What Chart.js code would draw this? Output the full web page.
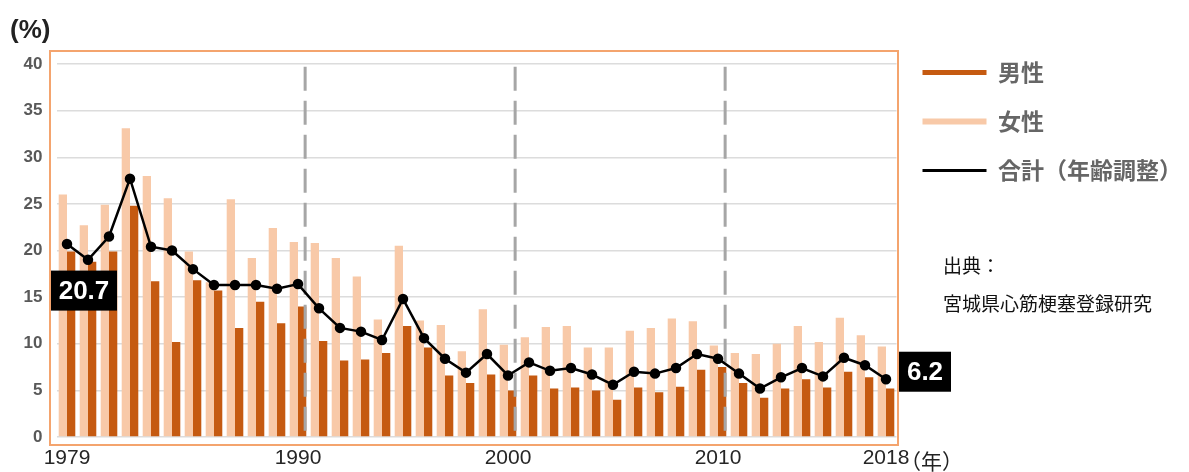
<!DOCTYPE html>
<html lang="ja">
<head>
<meta charset="utf-8">
<title>宮城県 急性心筋梗塞 院内死亡率</title>
<script src="https://cdn.jsdelivr.net/npm/chart.js@4.4.1/dist/chart.umd.min.js"></script>
<style>
  html, body { margin: 0; padding: 0; background: #fff; }
  #wrap { width: 1189px; height: 472px; position: relative; }
</style>
</head>
<body>
<div id="wrap"><canvas id="mortalityChart"></canvas></div>
<script>
const years = [1979, 1980, 1981, 1982, 1983, 1984, 1985, 1986, 1987, 1988,
               1989, 1990, 1991, 1992, 1993, 1994, 1995, 1996, 1997, 1998,
               1999, 2000, 2001, 2002, 2003, 2004, 2005, 2006, 2007, 2008,
               2009, 2010, 2011, 2012, 2013, 2014, 2015, 2016, 2017, 2018];

// 男性 (%)
const maleRates = [19.9, 18.8, 19.9, 24.8, 16.7, 10.2, 16.8, 15.7, 11.7, 14.5,
                   12.2, 14.0, 10.3, 8.2, 8.3, 9.0, 11.9, 9.6, 6.6, 5.8,
                   6.7, 5.0, 6.6, 5.2, 5.3, 5.0, 4.0, 5.3, 4.8, 5.4,
                   7.2, 7.5, 5.8, 4.2, 5.2, 6.2, 5.3, 7.0, 6.4, 5.2];

// 女性 (%)
const femaleRates = [26.0, 22.7, 24.9, 33.1, 28.0, 25.6, 19.9, 16.6, 25.5, 19.2,
                     22.4, 20.9, 20.8, 19.2, 17.2, 12.6, 20.5, 12.5, 12.0, 9.2,
                     13.7, 9.9, 10.7, 11.8, 11.9, 9.6, 9.6, 11.4, 11.7, 12.7,
                     12.4, 9.8, 9.0, 8.9, 10.0, 11.9, 10.2, 12.8, 10.9, 9.7];

// 合計（年齢調整） (%)
const totalRates = [20.7, 19.0, 21.5, 27.7, 20.4, 20.0, 18.0, 16.3, 16.3, 16.3,
                    15.9, 16.4, 13.8, 11.7, 11.3, 10.4, 14.8, 10.6, 8.4, 6.9,
                    8.9, 6.6, 8.0, 7.1, 7.4, 6.7, 5.6, 7.0, 6.8, 7.4,
                    8.9, 8.4, 6.8, 5.2, 6.4, 7.4, 6.5, 8.5, 7.7, 6.2];

const tickYears = [1979, 1990, 2000, 2010, 2018];
const decadeYears = [1990, 2000, 2010];
const yTicks = [0, 5, 10, 15, 20, 25, 30, 35, 40];

const seriesNames = ['男性', '女性', '合計（年齢調整）'];
const seriesColors = ['#c55a11', '#f8c9a8', '#000000'];
const legendLineWidths = [5, 6, 3];

const numFont = '"Liberation Sans", Arial, sans-serif';
const jpFont = '"Noto Sans CJK JP", "Noto Sans", sans-serif';

// orange frame round the plot
const framePlugin = {
    id: 'frame',
    beforeDraw(chart) {
        const { ctx, chartArea } = chart;
        ctx.save();
        ctx.strokeStyle = '#f4a46e';
        ctx.lineWidth = 2;
        ctx.strokeRect(chartArea.left - 6.5, chartArea.top - 13,
                       chartArea.width + 8, chartArea.height + 21);
        ctx.restore();
    }
};

// dashed lines at each decade, drawn under the total line
const decadePlugin = {
    id: 'decadeLines',
    beforeDatasetDraw(chart, args) {
        if (args.meta.type !== 'line') return;
        const { ctx, chartArea, scales: { x, y } } = chart;
        const half = (x.getPixelForValue(1) - x.getPixelForValue(0)) / 2;
        ctx.save();
        ctx.strokeStyle = '#a6a6a6';
        ctx.lineWidth = 3;
        ctx.setLineDash([24, 10]);
        decadeYears.forEach(yr => {
            const px = x.getPixelForValue(years.indexOf(yr)) + half * 0.68;
            ctx.beginPath();
            ctx.moveTo(px, y.getPixelForValue(39.7));
            ctx.lineTo(px, chartArea.bottom);
            ctx.stroke();
        });
        ctx.restore();
    }
};

// value boxes, year unit and source note
const notesPlugin = {
    id: 'notes',
    afterDraw(chart) {
        const { ctx, chartArea, scales: { x, y } } = chart;
        const last = totalRates.length - 1;

        function valueBox(text, left, width, centerY) {
            ctx.fillStyle = '#000';
            ctx.fillRect(left, centerY - 20, width, 40);
            ctx.fillStyle = '#fff';
            ctx.font = 'bold 26px ' + numFont;
            ctx.textAlign = 'center';
            ctx.textBaseline = 'middle';
            ctx.fillText(text, left + width / 2, centerY + 1);
        }

        ctx.save();
        valueBox(totalRates[0].toFixed(1), chartArea.left - 5.5, 66, y.getPixelForValue(15.7));
        valueBox(totalRates[last].toFixed(1), chartArea.right + 2.5, 52, y.getPixelForValue(7.0));

        ctx.fillStyle = '#222';
        ctx.textAlign = 'left';
        ctx.textBaseline = 'middle';
        ctx.font = '21px ' + jpFont;
        ctx.fillText('（年）', x.getPixelForValue(last) + 14, 461);

        ctx.fillStyle = '#111';
        ctx.font = '19px ' + jpFont;
        ctx.fillText('出典：', chartArea.right + 46.5, 266);
        ctx.fillText('宮城県心筋梗塞登録研究', chartArea.right + 46.5, 304);
        ctx.restore();
    }
};

const ctx = document.getElementById('mortalityChart').getContext('2d');
const mortalityChart = new Chart(ctx, {
    type: 'bar',
    data: {
        labels: years,
        datasets: [{
            label: seriesNames[0],
            data: maleRates,
            backgroundColor: seriesColors[0],
            order: 2,
        }, {
            label: seriesNames[1],
            data: femaleRates,
            backgroundColor: seriesColors[1],
            order: 1,
        }, {
            type: 'line',
            label: seriesNames[2],
            data: totalRates,
            borderColor: seriesColors[2],
            backgroundColor: seriesColors[2],
            borderWidth: 2.5,
            pointRadius: 4,
            pointHoverRadius: 4,
            tension: 0,
            order: 0,
        }]
    },
    options: {
        responsive: true,
        maintainAspectRatio: false,
        animation: false,
        categoryPercentage: 0.79,
        barPercentage: 1.0,
        layout: { padding: { top: 10, left: 10, right: 0, bottom: 0 } },
        plugins: {
            title: {
                display: true,
                text: '(%)',
                align: 'start',
                color: '#222',
                font: { family: numFont, size: 26, weight: 'bold', lineHeight: 1.2 },
                padding: { top: 5, bottom: 17.8 },
            },
            legend: {
                position: 'right',
                align: 'start',
                maxWidth: 292.5,
                title: { display: true, text: ' ', font: { size: 13, lineHeight: 1 }, padding: 6 },
                labels: {
                    usePointStyle: true,
                    pointStyleWidth: 64,
                    padding: 26,
                    color: '#111',
                    font: { family: jpFont, size: 23, weight: 'bold' },
                    generateLabels: chart => chart.data.datasets.map((ds, i) => ({
                        text: ds.label,
                        fillStyle: seriesColors[i],
                        strokeStyle: seriesColors[i],
                        lineWidth: legendLineWidths[i],
                        pointStyle: 'line',
                        hidden: false,
                        datasetIndex: i,
                    })),
                },
            },
            tooltip: { enabled: false },
        },
        scales: {
            x: {
                offset: true,
                grid: { display: false, drawTicks: false },
                border: { display: false },
                ticks: {
                    autoSkip: false,
                    maxRotation: 0,
                    padding: 9,
                    color: '#262626',
                    font: { family: numFont, size: 21 },
                    callback: function (value) {
                        const yr = this.getLabelForValue(value);
                        return tickYears.includes(yr) ? String(yr) : '';
                    },
                },
                afterFit: scale => { scale.height = 35; },
            },
            y: {
                min: 0,
                max: 40,
                afterBuildTicks: scale => { scale.ticks = yTicks.map(v => ({ value: v })); },
                grid: { color: '#dcdcdc', lineWidth: 1.5, drawTicks: false },
                border: { display: false },
                ticks: {
                    padding: 14,
                    color: '#595959',
                    font: { family: numFont, size: 17, weight: 'bold' },
                },
                afterFit: scale => { scale.width = 46.5; },
            },
        },
    },
    plugins: [framePlugin, decadePlugin, notesPlugin],
});
</script>
</body>
</html>
